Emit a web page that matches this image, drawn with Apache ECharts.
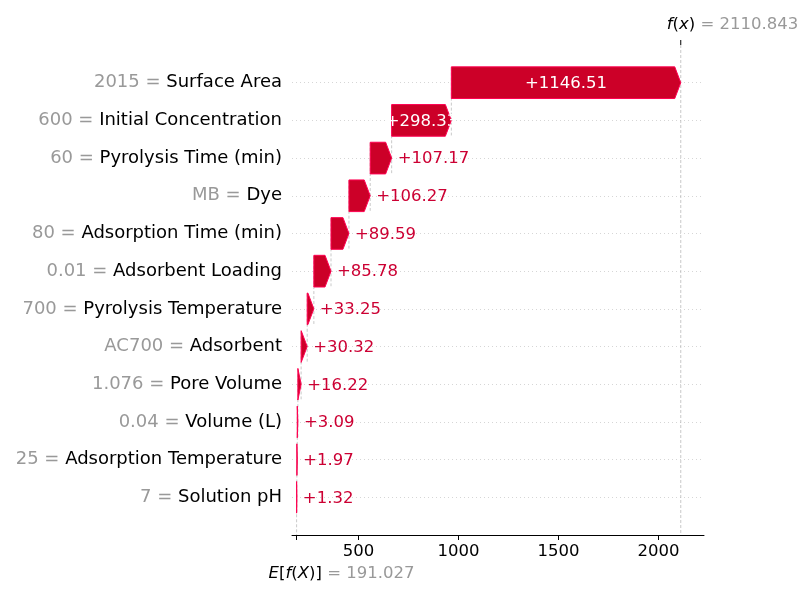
<!DOCTYPE html>
<html>
<head>
<meta charset="utf-8">
<script src="https://cdn.jsdelivr.net/npm/echarts@6/dist/echarts.min.js"></script>
<style>
  html, body { margin: 0; padding: 0; background: #fff; }
  #chart { width: 800px; height: 600px; }
</style>
</head>
<body>
<div id="chart"></div>
<script>
// 特征（从上到下）
var featureNames = ['Surface Area', 'Initial Concentration', 'Pyrolysis Time (min)', 'Dye',
  'Adsorption Time (min)', 'Adsorbent Loading', 'Pyrolysis Temperature', 'Adsorbent',
  'Pore Volume', 'Volume (L)', 'Adsorption Temperature', 'Solution pH']
var featureValues = ['2015', '600', '60', 'MB', '80', '0.01', '700', 'AC700', '1.076', '0.04', '25', '7']
var shapValues = [1146.51, 298.33, 107.17, 106.27, 89.59, 85.78, 33.25, 30.32, 16.22, 3.09, 1.97, 1.32]
var baseValue = 191.027
var fxValue = 2110.843
var xTicks = [500, 1000, 1500, 2000]

var FONT = 'DejaVu Sans'
var n = shapValues.length

// 每个条从下往上累加
var barData = []
var acc = baseValue
for (var i = n - 1; i >= 0; i--) {
  barData[i] = [acc, acc + shapValues[i], i, shapValues[i]]
  acc += shapValues[i]
}

// 虚线连接
var lineData = []
for (var j = 0; j < n - 1; j++) {
  lineData.push([barData[j][0], j - 0.4, j + 1 + 0.4])
}
lineData.push([fxValue, -1, n])
lineData.push([baseValue, n - 1.08, n])

var chart = echarts.init(document.getElementById('chart'))

var it = { fill: '#000', fontSize: 16.5, fontFamily: FONT, fontStyle: 'italic' }
var up = { fill: '#000', fontSize: 16.5, fontFamily: FONT }
var gr = { fill: '#999999', fontSize: 16.5, fontFamily: FONT }

var option = {
  animation: false,
  grid: { left: 292, right: 96, top: 45, bottom: 65, outerBoundsMode: 'none' },
  xAxis: {
    type: 'value',
    min: 168,
    max: 2227,
    axisLine: { show: true, onZero: false, lineStyle: { color: '#000', width: 1 } },
    axisTick: { show: true, length: 5, lineStyle: { color: '#000' }, customValues: [baseValue].concat(xTicks) },
    axisLabel: {
      customValues: xTicks, color: '#000', fontSize: 16.5, fontFamily: FONT, margin: 8,
      formatter: function (v) { return String(v) }
    },
    splitLine: { show: false }
  },
  yAxis: {
    type: 'value',
    inverse: true,
    min: -1,
    max: n,
    interval: 1,
    axisLine: { show: false },
    axisTick: { show: false },
    axisLabel: {
      margin: 10,
      formatter: function (v) {
        if (v < 0 || v >= n) return ''
        return '{v|' + featureValues[v] + ' = }{n|' + featureNames[v] + '}'
      },
      rich: {
        v: { color: '#999999', fontSize: 18, fontFamily: FONT },
        n: { color: '#000000', fontSize: 18, fontFamily: FONT }
      }
    },
    splitLine: {
      show: true,
      showMinLine: false,
      showMaxLine: false,
      lineStyle: { color: '#cccccc', width: 0.8, type: [1, 3] }
    }
  },
  series: [
    {
      type: 'custom',
      clip: false,
      data: lineData,
      renderItem: function (params, api) {
        var p0 = api.coord([api.value(0), api.value(1)])
        var p1 = api.coord([api.value(0), api.value(2)])
        return {
          type: 'line',
          shape: { x1: p0[0], y1: p0[1], x2: p1[0], y2: p1[1] },
          style: { stroke: '#bbbbbb', lineWidth: 0.8, lineDash: [3, 2] }
        }
      },
      z: 1
    },
    {
      type: 'custom',
      data: barData,
      renderItem: function (params, api) {
        var row = api.value(2)
        var a = api.coord([api.value(0), row])
        var b = api.coord([api.value(1), row])
        var hh = Math.abs(api.size([0, 0.84])[1]) / 2
        var w = b[0] - a[0]
        var head = Math.min(w, 6)
        var pts = [[a[0], a[1] - hh], [b[0] - head, a[1] - hh], [b[0], a[1]],
          [b[0] - head, a[1] + hh], [a[0], a[1] + hh]]
        var inside = w > 40
        return {
          type: 'group',
          children: [
            { type: 'polygon', shape: { points: pts }, style: { fill: '#cc0028', stroke: '#ff0051', lineWidth: 1 } },
            {
              type: 'text',
              style: {
                text: '+' + api.value(3).toFixed(2),
                x: inside ? (a[0] + b[0]) / 2 : b[0] + 6,
                y: a[1] + 1,
                align: inside ? 'center' : 'left',
                verticalAlign: 'middle',
                fill: inside ? '#ffffff' : '#cc0033',
                font: '16.5px "DejaVu Sans"'
              }
            }
          ]
        }
      },
      z: 2
    },
    {
      // f(x) 与 E[f(X)] 标注
      type: 'custom',
      clip: false,
      data: [[baseValue, fxValue]],
      renderItem: function (params, api) {
        var top = api.coord([api.value(1), -1])
        var bot = api.coord([api.value(0), n])
        return {
          type: 'group',
          children: [
            { type: 'line', shape: { x1: top[0], y1: top[1], x2: top[0], y2: top[1] - 5 }, style: { stroke: '#000', lineWidth: 1 } },
            {
              type: 'text',
              style: {
                text: '{i|f}{u|(}{i|x}{u|)}{g| = ' + fxValue.toFixed(3) + '}',
                x: top[0] - 14, y: top[1] - 20, align: 'left', verticalAlign: 'middle',
                rich: { i: it, u: up, g: gr }
              }
            },
            {
              type: 'text',
              style: {
                text: '{i|E}{u|[}{i|f}{u|(}{i|X}{u|)]}{g| = ' + baseValue.toFixed(3) + '}',
                x: bot[0] - 28, y: bot[1] + 39, align: 'left', verticalAlign: 'middle',
                rich: { i: it, u: up, g: gr }
              }
            }
          ]
        }
      },
      z: 3
    }
  ]
}

chart.setOption(option)
</script>
</body>
</html>
